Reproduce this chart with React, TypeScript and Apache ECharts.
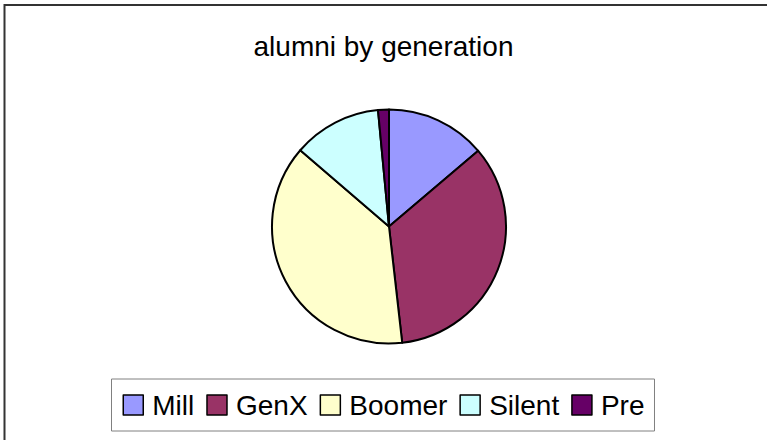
import React, { useEffect, useRef } from "react";
import * as echarts from "echarts";

const categories = ["Mill", "GenX", "Boomer", "Silent", "Pre"];
const values = [13.8, 34.4, 38.1, 12.2, 1.5];
const colors = ["#9999FF", "#993366", "#FFFFCC", "#CCFFFF", "#660066"];
const titleText = "alumni by generation";

export default function App() {
  const ref = useRef<HTMLDivElement>(null);
  useEffect(() => {
    if (!ref.current) return;
    const chart = echarts.init(ref.current, undefined, { renderer: "svg" });
    const font = "'Liberation Sans', Arial, sans-serif";
    chart.setOption({
      animation: false,
      backgroundColor: "#ffffff",
      title: {
        text: titleText,
        left: "center",
        top: 27,
        textStyle: { fontFamily: font, fontSize: 28, fontWeight: "normal", color: "#000" },
      },
      legend: {
        data: categories,
        left: "center",
        top: 379,
        orient: "horizontal",
        icon: "rect",
        itemWidth: 20,
        itemHeight: 20,
        itemGap: 12,
        padding: [12, 10, 12, 11],
        borderColor: "#808080",
        borderWidth: 1,
        itemStyle: { borderColor: "#000", borderWidth: 1.5 },
        textStyle: { fontFamily: font, fontSize: 28, color: "#000", padding: [0, 0, 0, 4] },
      },
      graphic: [
        {
          type: "rect",
          shape: { x: 4.5, y: 5, width: 900, height: 600 },
          style: { fill: "none", stroke: "#333", lineWidth: 2 },
          silent: true,
          z: 10,
        },
      ],
      series: [
        {
          type: "pie",
          center: [389, 226.5],
          radius: [0, 117],
          startAngle: 90,
          clockwise: true,
          label: { show: false },
          labelLine: { show: false },
          emphasis: { disabled: true },
          itemStyle: { borderColor: "#000", borderWidth: 2 },
          data: categories.map((c, i) => ({
            name: c,
            value: values[i],
            itemStyle: { color: colors[i] },
          })),
        },
      ],
    });
    return () => chart.dispose();
  }, []);
  return (
    <div
      ref={ref}
      style={{ position: "fixed", left: 0, top: 0, width: 767, height: 440 }}
    />
  );
}
